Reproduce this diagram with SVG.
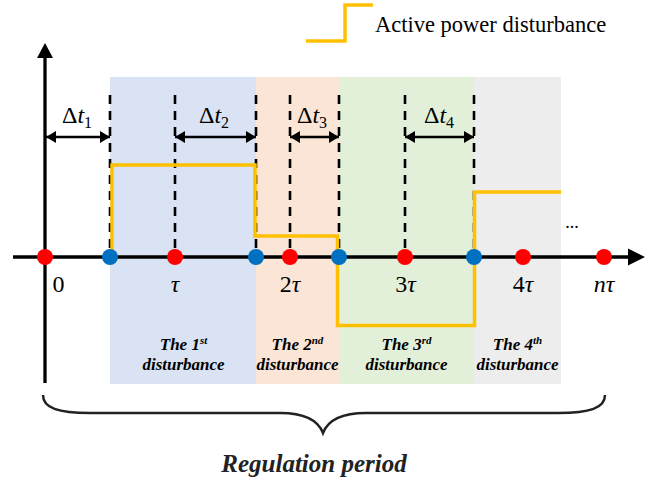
<svg xmlns="http://www.w3.org/2000/svg" width="667" height="485" viewBox="0 0 667 485">
<style>
.dash{stroke:#000;stroke-width:2.6;stroke-dasharray:9,7;fill:none}
.dt{stroke:#000;stroke-width:2.6;fill:none;marker-start:url(#ah);marker-end:url(#ah)}
.dist{stroke:#FFC000;stroke-width:3.5;fill:none}
.math{font-family:"Liberation Serif","DejaVu Serif",serif;font-size:24px;fill:#000}
.band{font-family:"Liberation Serif",serif;font-size:17px;font-weight:bold;font-style:italic;fill:#000;text-anchor:middle}
.red{fill:#FF0000}
.blue{fill:#0070C0}
</style>
<defs>
<marker id="ah" viewBox="0 0 10 12" refX="10" refY="6" markerWidth="10" markerHeight="12" markerUnits="userSpaceOnUse" orient="auto-start-reverse">
<path d="M0,0 L10,6 L0,12 Z" fill="#000"/>
</marker>
</defs>
<g id="bands">
<rect x="110" y="77" width="146" height="307" fill="#DAE3F3"/>
<rect x="256" y="77" width="83" height="307" fill="#FBE5D6"/>
<rect x="339" y="77" width="135" height="307" fill="#E2F0D9"/>
<rect x="474" y="77" width="87" height="307" fill="#EDEDED"/>
</g>
<g id="dashes">
<line class="dash" x1="110" y1="95" x2="110" y2="257"/>
<line class="dash" x1="175" y1="95" x2="175" y2="257"/>
<line class="dash" x1="256" y1="95" x2="256" y2="257"/>
<line class="dash" x1="290" y1="95" x2="290" y2="257"/>
<line class="dash" x1="339" y1="95" x2="339" y2="257"/>
<line class="dash" x1="405" y1="95" x2="405" y2="257"/>
<line class="dash" x1="474" y1="95" x2="474" y2="257"/>
</g>
<g id="connectors">
<line class="dt" x1="46" y1="137" x2="110" y2="137"/>
<line class="dt" x1="175" y1="137" x2="256" y2="137"/>
<line class="dt" x1="290" y1="137" x2="339" y2="137"/>
<line class="dt" x1="405" y1="137" x2="474" y2="137"/>
</g>
<g id="dt-labels" class="math">
<text x="62" y="123">Δ<tspan font-style="italic">t</tspan><tspan font-size="16" dy="5">1</tspan></text>
<text x="199" y="123">Δ<tspan font-style="italic">t</tspan><tspan font-size="16" dy="5">2</tspan></text>
<text x="297" y="123">Δ<tspan font-style="italic">t</tspan><tspan font-size="16" dy="5">3</tspan></text>
<text x="424" y="123">Δ<tspan font-style="italic">t</tspan><tspan font-size="16" dy="5">4</tspan></text>
</g>
<g id="disturbance">
<path class="dist" d="M112,257 L112,165 L255,165 L255,236 L337.5,236 L337.5,325.5 L474.5,325.5 L474.5,192 L561,192"/>
</g>
<g id="axes">
<line x1="45" y1="383" x2="45" y2="56" stroke="#000" stroke-width="3.3"/>
<path d="M45,43 L53,58 L37,58 Z" fill="#000"/>
<line x1="13" y1="257" x2="630" y2="257" stroke="#000" stroke-width="3.3"/>
<path d="M645,257 L628,248.5 L628,265.5 Z" fill="#000"/>
</g>
<g id="dots">
<circle class="red" cx="45" cy="257" r="8"/>
<circle class="red" cx="175" cy="257" r="8"/>
<circle class="red" cx="290" cy="257" r="8"/>
<circle class="red" cx="405" cy="257" r="8"/>
<circle class="red" cx="523" cy="257" r="8"/>
<circle class="red" cx="604" cy="257" r="8"/>
<circle class="blue" cx="110" cy="257" r="8"/>
<circle class="blue" cx="256" cy="257" r="8"/>
<circle class="blue" cx="339" cy="257" r="8"/>
<circle class="blue" cx="474" cy="257" r="8"/>
</g>
<g id="ticks" class="math" text-anchor="middle">
<text x="58.5" y="292">0</text>
<text x="175" y="292" font-style="italic">τ</text>
<text x="290" y="292">2<tspan font-style="italic">τ</tspan></text>
<text x="405.5" y="292">3<tspan font-style="italic">τ</tspan></text>
<text x="523" y="292">4<tspan font-style="italic">τ</tspan></text>
<text x="604" y="292" font-style="italic">nτ</text>
<text x="572" y="228" font-size="18">...</text>
</g>
<g id="band-labels">
<text class="band" x="183.5" y="350">The 1<tspan font-size="11" dy="-6">st</tspan></text>
<text class="band" x="183.5" y="370">disturbance</text>
<text class="band" x="297.5" y="350">The 2<tspan font-size="11" dy="-6">nd</tspan></text>
<text class="band" x="297.5" y="370">disturbance</text>
<text class="band" x="406.5" y="350">The 3<tspan font-size="11" dy="-6">rd</tspan></text>
<text class="band" x="406.5" y="370">disturbance</text>
<text class="band" x="517.5" y="350">The 4<tspan font-size="11" dy="-6">th</tspan></text>
<text class="band" x="517.5" y="370">disturbance</text>
</g>
<g id="legend">
<path class="dist" d="M306,41 L345,41 L345,5 L373,5"/>
<text x="375" y="32" font-family="Liberation Serif, serif" font-size="22.5" fill="#000">Active power disturbance</text>
</g>
<g id="brace">
<path d="M43,395 C43,408 58,413 90,413 L280,413 C305,413 318,420 323,433 C328,420 341,413 366,413 L558,413 C590,413 605,408 605,395" fill="none" stroke="#222" stroke-width="2.5"/>
<text x="314" y="472" text-anchor="middle" font-family="Liberation Serif, serif" font-size="25" font-weight="bold" font-style="italic" fill="#222">Regulation period</text>
</g>
</svg>
